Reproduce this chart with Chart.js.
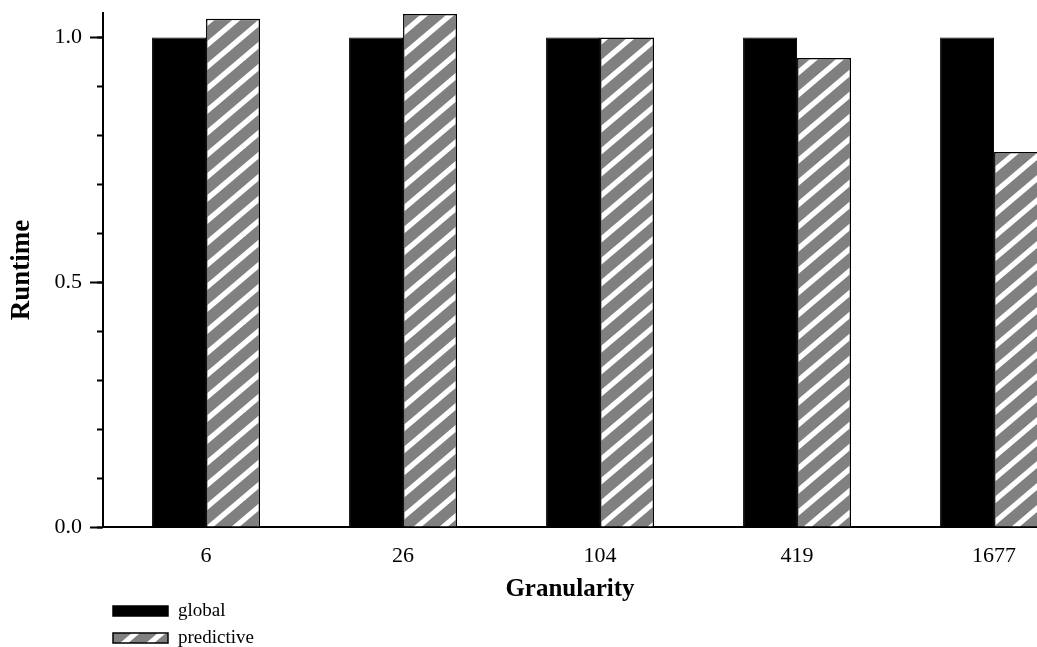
<!DOCTYPE html>
<html>
<head>
<meta charset="utf-8">
<script src="https://cdn.jsdelivr.net/npm/chart.js@4.4.1/dist/chart.umd.min.js"></script>
<style>
  html, body { margin: 0; padding: 0; background: #fff; overflow: hidden; }
  canvas { display: block; }
</style>
</head>
<body>
<canvas id="chart" width="1037" height="647"></canvas>
<script>
// Runtime per granularity, normalised to the global scheme
const categories = ['6', '26', '104', '419', '1677'];
const globalRuntime = [1.0, 1.0, 1.0, 1.0, 1.0];
const predictiveRuntime = [1.038, 1.048, 1.0, 0.958, 0.766];
const seriesNames = ['global', 'predictive'];

const SERIF = "'Liberation Serif', 'DejaVu Serif', serif";
const canvas = document.getElementById('chart');
const ctx = canvas.getContext('2d');

// grey / white diagonal hatch used for the predictive bars
function makeHatch() {
  const W = 26, H = 22, stripe = 7;
  const tile = document.createElement('canvas');
  tile.width = W; tile.height = H;
  const g = tile.getContext('2d');
  g.fillStyle = '#808080';
  g.fillRect(0, 0, W, H);
  g.strokeStyle = '#ffffff';
  g.lineWidth = stripe * W / Math.hypot(W, H);
  for (const a of [-W, 0, W]) {
    g.beginPath();
    g.moveTo(a - W, 2 * H);
    g.lineTo(a + 2 * W, -H);
    g.stroke();
  }
  return ctx.createPattern(tile, 'repeat');
}
const hatch = makeHatch();

const toPoints = arr => arr.map((v, i) => ({ x: i, y: v }));

// legend block stacked under the x axis title
const stackedLegend = {
  id: 'stackedLegend',
  afterDraw(chart) {
    const c = chart.ctx;
    c.save();
    chart.data.datasets.forEach((ds, i) => {
      const bx = 113, by = 606 + i * 27, bw = 55, bh = 10;
      c.fillStyle = ds.backgroundColor;
      c.fillRect(bx, by, bw, bh);
      c.lineWidth = 1.5;
      c.strokeStyle = '#000';
      c.strokeRect(bx, by, bw, bh);
      c.fillStyle = '#000';
      c.font = '19px ' + SERIF;
      c.textBaseline = 'alphabetic';
      c.textAlign = 'left';
      c.fillText(ds.label, 178, by + 10);
    });
    c.restore();
  }
};

new Chart(ctx, {
  type: 'bar',
  data: {
    datasets: [
      {
        label: seriesNames[0],
        data: toPoints(globalRuntime),
        backgroundColor: '#000000',
        borderColor: '#000000',
        borderWidth: 1
      },
      {
        label: seriesNames[1],
        data: toPoints(predictiveRuntime),
        backgroundColor: hatch,
        borderColor: '#000000',
        borderWidth: 1.5
      }
    ]
  },
  options: {
    responsive: false,
    animation: false,
    layout: { padding: { top: 13, right: 0, bottom: 41, left: 0 } },
    datasets: { bar: { categoryPercentage: 0.548, barPercentage: 1 } },
    plugins: {
      legend: { display: false },
      tooltip: { enabled: false }
    },
    scales: {
      x: {
        type: 'linear',
        offset: false,
        min: -0.523,
        max: 4.218,
        afterBuildTicks(scale) {
          scale.ticks = categories.map((_, i) => ({ value: i }));
        },
        afterFit(scale) { scale.height = 79; },
        grid: { display: false },
        border: { display: true, color: '#000', width: 2 },
        ticks: {
          autoSkip: false,
          maxRotation: 0,
          padding: 8,
          color: '#000',
          font: { family: SERIF, size: 22 },
          callback: v => categories[v]
        },
        title: {
          display: true,
          text: 'Granularity',
          color: '#000',
          font: { family: SERIF, size: 25, weight: 'bold' },
          padding: { top: 0, bottom: 1 }
        }
      },
      y: {
        position: 'left',
        weight: 1,
        min: 0,
        max: 1.05,
        afterFit(scale) {
          scale.width = 103;
          scale.paddingTop = 0;
          scale.paddingBottom = 0;
        },
        grid: { drawOnChartArea: false, tickLength: 13, tickWidth: 2, color: '#000' },
        border: { display: true, color: '#000', width: 2 },
        ticks: {
          stepSize: 0.5,
          includeBounds: false,
          padding: 8,
          color: '#000',
          font: { family: SERIF, size: 22 },
          callback: v => v.toFixed(1)
        },
        title: {
          display: true,
          text: 'Runtime',
          color: '#000',
          font: { family: SERIF, size: 27, weight: 'bold' },
          padding: { top: 6, bottom: 0 }
        }
      },
      yMinor: {
        position: 'left',
        weight: 0,
        min: 0,
        max: 1.05,
        afterFit(scale) {
          scale.width = 0;
          scale.paddingTop = 0;
          scale.paddingBottom = 0;
        },
        grid: { drawOnChartArea: false, tickLength: 6, tickWidth: 2, color: '#000' },
        border: { display: false },
        ticks: { display: false, stepSize: 0.1, includeBounds: false }
      }
    }
  },
  plugins: [stackedLegend]
});
</script>
</body>
</html>
